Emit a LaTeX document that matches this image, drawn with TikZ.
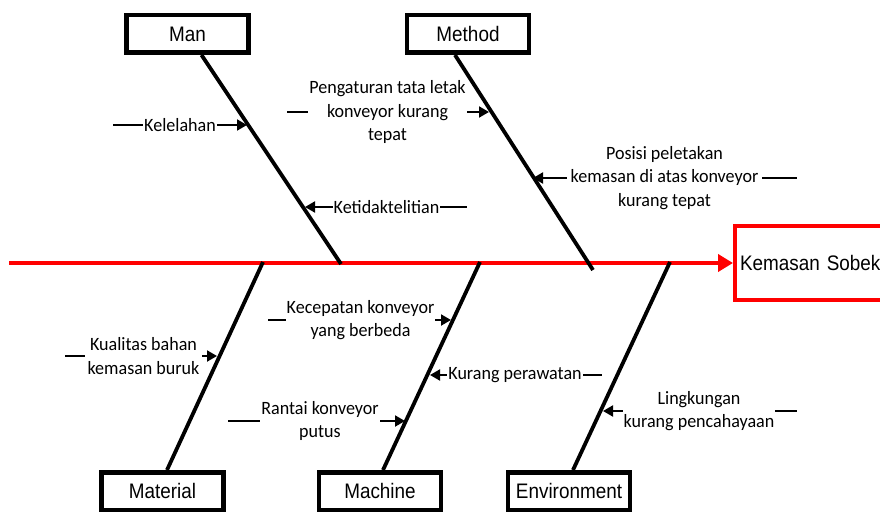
\documentclass[tikz,border=0pt]{standalone}
\usepackage{fontspec}
\newfontfamily\boxfont[FakeStretch=0.9]{Liberation Sans}
\newfontfamily\causefont[FakeStretch=0.96]{Carlito}
\usetikzlibrary{arrows.meta}
\begin{document}
\begin{tikzpicture}[x=1pt,y=-1pt,
  catbox/.style={draw=black, line width=4.5pt, fill=white, minimum width=122pt, minimum height=37.5pt, inner sep=0pt, font=\boxfont\fontsize{21}{25}\selectfont},
  effectbox/.style={draw=red, line width=4pt, fill=white, minimum height=74pt, text width=200pt, inner xsep=5pt, align=left, anchor=west, font=\boxfont\fontsize{21}{25}\selectfont},
  bone/.style={line width=3.8pt, black},
  spine/.style={line width=4.5pt, red, -{Triangle[length=15pt,width=17pt]}},
  cause/.style={inner sep=0pt, align=center, font=\causefont\fontsize{18.8}{23.5}\selectfont},
  causearrow/.style={line width=2pt, -{Triangle[length=10pt,width=11pt]}},
  causeline/.style={line width=2pt},
]
\useasboundingbox (0,0) rectangle (880,511);
\clip (0,0) rectangle (880,511);

% category boxes
\node[catbox] (man) at (187.5,34) {Man};
\node[catbox] (method) at (468,34) {Method};
\node[catbox] (material) at (162.5,491) {Material};
\node[catbox] (machine) at (380,491) {Machine};
\node[catbox] (env) at (569,491) {Environment};

% effect
\node[effectbox] (effect) at (733,263) {Kemasan Sobek};

% spine
\coordinate (tail) at (9,263);
\draw[spine] (tail) -- (effect.west);

% bones
\coordinate (manJ) at (341,264);
\coordinate (methodJ) at (593,270);
\coordinate (matJ) at (263,262);
\coordinate (macJ) at (480,262);
\coordinate (envJ) at (670,262);
\draw[bone] (man) -- (manJ);
\draw[bone] ([xshift=-13pt]method.south) -- (methodJ);
\draw[bone] (matJ) -- ([xshift=4.5pt]material.north);
\draw[bone] (macJ) -- ([xshift=3pt]machine.north);
\draw[bone] (envJ) -- ([xshift=4pt]env.north);

% Man causes
\node[cause, minimum width=74pt] (kel) at (180,125) {Kelelahan};
\coordinate (kelS) at (113,125);
\coordinate (kelT) at (247,125);
\draw[causeline] (kelS) -- (kel.west);
\draw[causearrow] (kel.east) -- (kelT);

\node[cause, minimum width=107pt] (ket) at (386.5,207) {Ketidaktelitian};
\coordinate (ketT) at (305,207);
\coordinate (ketE) at (467,207);
\draw[causearrow] (ket.west) -- (ketT);
\draw[causeline] (ket.east) -- (ketE);

% Method causes
\node[cause, minimum width=159pt] (peng) at (387.5,112) {Pengaturan tata letak\\konveyor kurang\\tepat};
\coordinate (pengS) at (287,112);
\coordinate (pengT) at (489,112);
\draw[causeline] (pengS) -- (peng.west);
\draw[causearrow] (peng.east) -- (pengT);

\node[cause, minimum width=195pt] (pos) at (664.5,178) {Posisi peletakan\\kemasan di atas konveyor\\kurang tepat};
\coordinate (posT) at (533,178);
\coordinate (posE) at (797,178);
\draw[causearrow] (pos.west) -- (posT);
\draw[causeline] (pos.east) -- (posE);

% Material cause
\node[cause, minimum width=117pt] (kual) at (143.5,356) {Kualitas bahan\\kemasan buruk};
\coordinate (kualS) at (65,356);
\coordinate (kualT) at (217,356);
\draw[causeline] (kualS) -- (kual.west);
\draw[causearrow] (kual.east) -- (kualT);

% Machine causes
\node[cause, minimum width=149pt] (kec) at (360.5,320) {Kecepatan konveyor\\yang berbeda};
\coordinate (kecS) at (268,320);
\coordinate (kecT) at (451,320);
\draw[causeline] (kecS) -- (kec.west);
\draw[causearrow] (kec.east) -- (kecT);

\node[cause, minimum width=136pt] (kur) at (515,375) {Kurang perawatan};
\coordinate (kurT) at (430,375);
\coordinate (kurE) at (602,375);
\draw[causearrow] (kur.west) -- (kurT);
\draw[causeline] (kur.east) -- (kurE);

\node[cause, minimum width=120pt] (rant) at (320,421) {Rantai konveyor\\putus};
\coordinate (rantS) at (228,421);
\coordinate (rantT) at (405,421);
\draw[causeline] (rantS) -- (rant.west);
\draw[causearrow] (rant.east) -- (rantT);

% Environment cause
\node[cause, minimum width=152pt] (ling) at (699,411) {Lingkungan\\kurang pencahayaan};
\coordinate (lingT) at (603,411);
\coordinate (lingE) at (797,411);
\draw[causearrow] (ling.west) -- (lingT);
\draw[causeline] (ling.east) -- (lingE);
\end{tikzpicture}
\end{document}
